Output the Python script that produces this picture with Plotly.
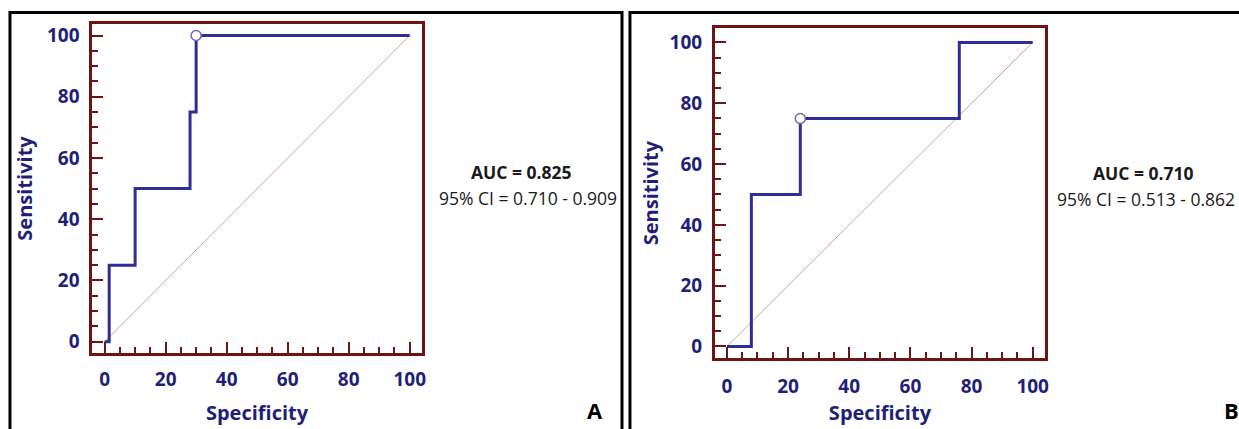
import plotly.graph_objects as go

# ---- data ----
spec_a = [0, 1.5, 1.5, 10, 10, 28, 28, 30, 30, 100]
sens_a = [0, 0, 25, 25, 50, 50, 75, 75, 100, 100]
crit_a = (30, 100)
auc_a = "AUC = 0.825"
ci_a = "95% CI = 0.710 - 0.909"

spec_b = [0, 8, 8, 24, 24, 76, 76, 100]
sens_b = [0, 0, 50, 50, 75, 75, 100, 100]
crit_b = (24, 75)
auc_b = "AUC = 0.710"
ci_b = "95% CI = 0.513 - 0.862"

diag = [0, 100]
tick_vals = [0, 20, 40, 60, 80, 100]
tick_text = ["0", "20", "40", "60", "80", "100"]

W, H = 1239, 429
NAVY = "#1f1f7a"
LINE = "#2e2e96"
MAROON = "#6e1414"
DIAG = "#c9a3a3"
FONT = "Open Sans"


def px(x):
    return x / W


def py(y):
    return 1 - y / H


fig = go.Figure()


def add_panel(xs, ys, crit, xa, ya):
    fig.add_trace(go.Scatter(x=diag, y=diag, mode="lines", line=dict(color=DIAG, width=1),
                             xaxis=xa, yaxis=ya, showlegend=False, hoverinfo="skip"))
    fig.add_trace(go.Scatter(x=xs, y=ys, mode="lines", line=dict(color=LINE, width=3),
                             xaxis=xa, yaxis=ya, showlegend=False))
    fig.add_trace(go.Scatter(x=[crit[0]], y=[crit[1]], mode="markers",
                             marker=dict(symbol="circle", size=10, color="white",
                                         line=dict(color="#6a6aa8", width=1.5)),
                             xaxis=xa, yaxis=ya, showlegend=False))


add_panel(spec_a, sens_a, crit_a, "x", "y")
add_panel(spec_b, sens_b, crit_b, "x2", "y2")


def axis(domain, rng, anchor, title, standoff, lstand):
    return dict(domain=domain, range=rng, anchor=anchor,
                tickvals=tick_vals, ticktext=tick_text,
                ticks="inside", ticklen=11, tickwidth=2, tickcolor=MAROON,
                minor=dict(dtick=5, tick0=0, ticks="inside", ticklen=6, tickwidth=2, tickcolor=MAROON),
                showline=True, linecolor=MAROON, linewidth=3, mirror=True,
                showgrid=False, zeroline=False,
                tickfont=dict(family=FONT, size=19, color=NAVY, weight="bold"),
                title=dict(text=title, standoff=standoff,
                           font=dict(family=FONT, size=20, color=NAVY, weight="bold")),
                ticklabelstandoff=lstand)


fig.update_layout(
    width=W, height=H,
    margin=dict(l=0, r=0, t=0, b=0),
    paper_bgcolor="white", plot_bgcolor="white",
    xaxis=axis([px(92.7), px(423)], [-4.0, 103.9], "y", "Specificity", 15, 7),
    yaxis=axis([py(354), py(22.7)], [-3.8, 103.9], "x", "Sensitivity", 10, 6),
    xaxis2=axis([px(717.3), px(1048.3)], [-3.9, 104.0], "y2", "Specificity", 9, 9),
    yaxis2=axis([py(358.7), py(27.3)], [-3.8, 104.7], "x2", "Sensitivity", 6, 6),
)

# outer black frames
fig.add_shape(type="rect", xref="paper", yref="paper", x0=px(10), x1=px(624),
              y0=-0.05, y1=py(11.5), line=dict(color="black", width=3))
fig.add_shape(type="rect", xref="paper", yref="paper", x0=px(632), x1=1.05,
              y0=-0.05, y1=py(11.5), line=dict(color="black", width=3))


def txt(x, y, s, size, bold=False, color="#1a1a1a"):
    fig.add_annotation(xref="paper", yref="paper", x=px(x), y=py(y), text=s, showarrow=False,
                       xanchor="center", yanchor="middle",
                       font=dict(family=FONT, size=size, color=color, weight="bold" if bold else "normal"))


txt(523, 172, auc_a, 17.5, bold=True)
txt(530, 198, ci_a, 17.5)
txt(1147, 173, auc_b, 17.5, bold=True)
txt(1150, 199, ci_b, 17.5)
txt(597, 411, "A", 22, bold=True, color="black")
txt(1235, 411, "B", 22, bold=True, color="black")

fig.write_html("out.html",
               config={"displayModeBar": False},
               post_script="document.body.style.margin='0';document.body.style.overflow='hidden';")
